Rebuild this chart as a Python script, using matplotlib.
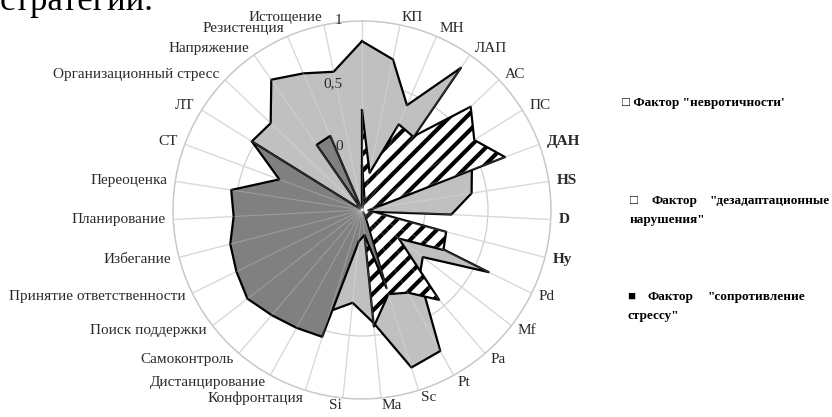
import matplotlib
matplotlib.use('Agg')
import numpy as np
import matplotlib.pyplot as plt

plt.rcParams['font.family'] = ['Liberation Serif', 'DejaVu Serif']
plt.rcParams['hatch.linewidth'] = 3.0

categories = ['', 'КП', 'МН', 'ЛАП', 'АС', 'ПС', 'ДАН', 'HS', 'D', 'Hy', 'Pd', 'Mf',
              'Pa', 'Pt', 'Sc', 'Ma', 'Si', 'Конфронтация', 'Дистанцирование',
              'Самоконтроль', 'Поиск поддержки', 'Принятие ответственности',
              'Избегание', 'Планирование', 'Переоценка', 'СТ', 'ЛТ',
              'Организационный стресс', 'Напряжение', 'Резистенция', 'Истощение']
bold_labels = ['ДАН', 'HS', 'D', 'Hy']

neuroticism = [0.84, 0.72, 0.405, 0.875, -0.45, 0.0, 0.43, 0.38, 0.21, -0.45, 0.62,
               0.11, 0.2, 0.78, 0.81, 0.4, 0.24, 0.34, 0.3, 0.3, 0.3, 0.3, 0.3,
               0.3, 0.3, 0.15, 0.53, 0.5, 0.76, 0.68, 0.62]
disadaptation = [0.29, -0.2, 0.24, 0.21, 0.69, 0.55, 0.71, -0.4, -0.45, 0.19, 0.22,
                 -0.13, 0.44, 0.25, 0.2, 0.43, -0.5, -0.5, -0.5, -0.5, -0.5, -0.5,
                 -0.5, -0.5, -0.5, -0.5, -0.5, -0.45, -0.5, -0.5, -0.5]
resistance = [-0.15, -0.4, -0.5, -0.5, -0.5, -0.5, -0.5, -0.5, -0.5, -0.5, -0.5,
              -0.5, -0.5, -0.45, 0.15, -0.3, -0.25, 0.555, 0.57, 0.6, 0.65, 0.61,
              0.58, 0.52, 0.55, 0.2, 0.53, -0.5, 0.13, 0.14, -0.5]

r_ticks = [0, 0.5, 1]
r_tick_labels = ['-0,5', '0', '0,5', '1']
r_tick_values = [-0.5, 0, 0.5, 1]

W, H = 832, 417
fig = plt.figure(figsize=(W / 100, H / 100), dpi=100)
ax = fig.add_axes([173 / W, 18 / H, 378 / W, 378 / H], projection='polar')
ax.set_theta_zero_location('N')
ax.set_theta_direction(-1)
ax.set_ylim(-0.5, 1)

N = len(categories)
theta = np.arange(N) * 2 * np.pi / N
ax.set_xticks(theta)
ax.set_xticklabels([])
ax.set_yticks(r_ticks)
ax.set_yticklabels([])
ax.grid(color='#cfcfcf', lw=0.9)
ax.spines['polar'].set_color('#c8c8c8')
ax.spines['polar'].set_linewidth(1.0)

def closed(v):
    return np.append(theta, theta[0]), np.append(v, v[0])

t, v = closed(neuroticism)
ax.fill(t, v, facecolor='#c0c0c0', edgecolor='none', zorder=2)
ax.plot(t, v, color='black', lw=1.6, zorder=2.1)

t, v = closed(disadaptation)
ax.fill(t, v, facecolor='white', edgecolor='black', hatch='//', lw=0, zorder=3)
ax.plot(t, v, color='black', lw=1.6, zorder=3.1)

t, v = closed(resistance)
ax.fill(t, v, facecolor='#808080', edgecolor='none', zorder=4)
ax.plot(t, v, color='black', lw=1.6, zorder=4.1)

# spokes visible through the fills
for th in theta:
    ax.plot([th, th], [-0.5, 1], color='white', alpha=0.22, lw=0.8, zorder=5)

# category labels
pad = 8 * 0.72
for th, lab in zip(theta, categories):
    s, c = np.sin(th), np.cos(th)
    ha = 'left' if s > 0.02 else ('right' if s < -0.02 else 'center')
    ax.annotate(lab, xy=(th, 1), xytext=(s * pad, c * pad),
                textcoords='offset points', ha=ha, va='center', fontsize=11,
                color='#2a2a2a',
                fontweight='bold' if lab in bold_labels else 'normal',
                annotation_clip=False)

# radial tick labels
for val, lab in zip(r_tick_values, r_tick_labels):
    ax.annotate(lab, xy=(0, val), xytext=(-14, 0), textcoords='offset points',
                ha='right', va='center', fontsize=11, color='#2a2a2a',
                annotation_clip=False)

def px(x, y):
    return x / W, 1 - y / H

lk = dict(fontsize=9.5, fontweight='bold', va='center', color='black')
fig.text(*px(622, 103), '□ Фактор "невротичности\'', **lk)
fig.text(*px(630, 201), '□', **lk)
fig.text(*px(652, 201), 'Фактор', **lk)
fig.text(*px(710, 201), '"дезадаптационные', **lk)
fig.text(*px(630, 220), 'нарушения"', **lk)
fig.text(*px(627, 297), '■', **lk)
fig.text(*px(648, 297), 'Фактор', **lk)
fig.text(*px(708, 297), '"сопротивление', **lk)
fig.text(*px(627, 316), 'стрессу"', **lk)

fig.text(*px(0, 10), 'стратегий.', fontsize=25, va='baseline', color='black')

fig.savefig('out.png', dpi=100)
